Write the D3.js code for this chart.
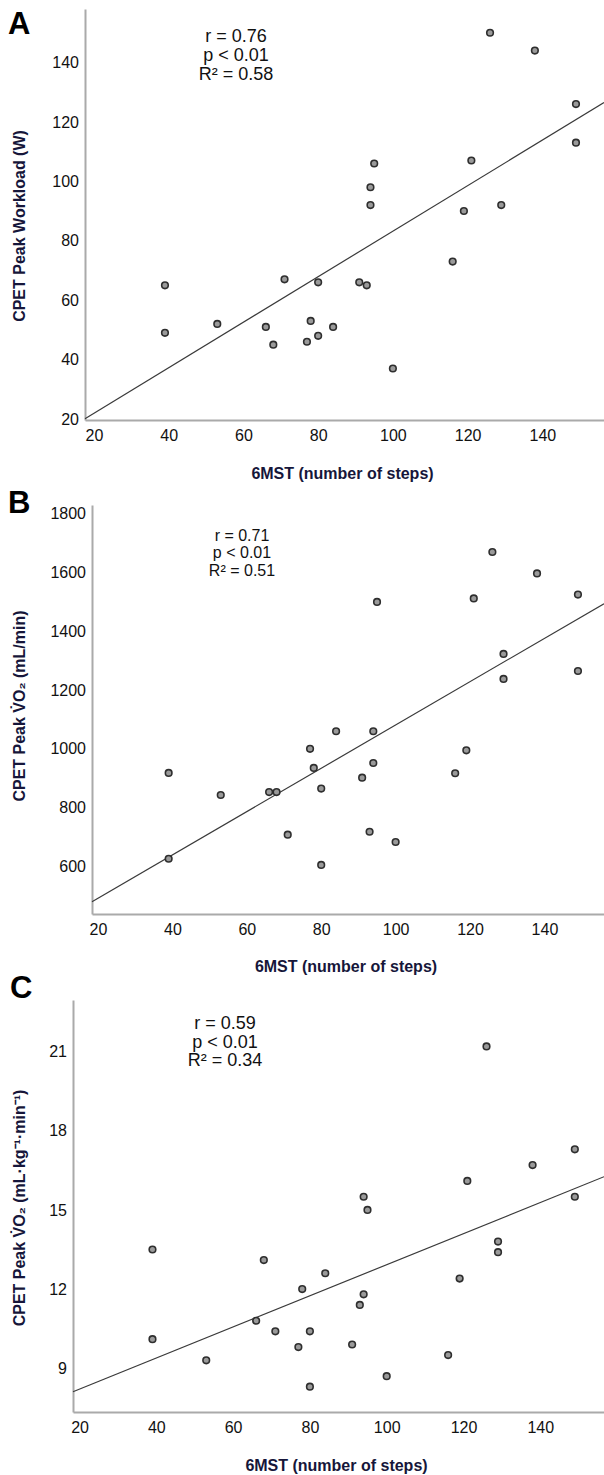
<!DOCTYPE html>
<html><head><meta charset="utf-8">
<script src="https://cdn.jsdelivr.net/npm/d3@7"></script>
<style>
body{margin:0;background:#fff;}
svg{display:block;font-family:"Liberation Sans",Arial,sans-serif;}
</style></head><body>
<svg id="c" width="604" height="1475"></svg>
<script>
// ---- data ----
const stepsA = [39,39,53,66,68,71,77,78,80,80,84,91,93,94,94,95,100,116,119,121,126,129,138,149,149];
const workloadA = [65,49,52,51,45,67,46,53,66,48,51,66,65,98,92,106,37,73,90,107,150,92,144,126,113];

const stepsBC = [39,39,53,66,68,71,77,78,80,80,84,91,93,94,94,95,100,116,119,121,126,129,129,138,149,149];
const vo2B = [918,626,843,853,853,708,1000,935,865,605,1060,902,718,1060,952,1500,683,917,995,1512,1670,1323,1238,1597,1525,1265];
const vo2kgC = [13.5,10.1,9.3,10.8,13.1,10.4,9.8,12.0,10.4,8.3,12.6,9.9,11.4,15.5,11.8,15.0,8.7,9.5,12.4,16.1,21.2,13.8,13.4,16.7,17.3,15.5];

const fitA = {x:[17.6,156.5], y:[20.1,126.5]};
const fitB = {x:[18.4,156.0], y:[480,1494]};
const fitC = {x:[18.3,156.6], y:[8.11,16.26]};

const xTicks = [20,40,60,80,100,120,140];
const yTicksA = [20,40,60,80,100,120,140];
const yTicksB = [600,800,1000,1200,1400,1600,1800];
const yTicksC = [9,12,15,18,21];

const statsA = ["r = 0.76","p < 0.01","R\u00b2 = 0.58"];
const statsB = ["r = 0.71","p < 0.01","R\u00b2 = 0.51"];
const statsC = ["r = 0.59","p < 0.01","R\u00b2 = 0.34"];

const xLabel = "6MST (number of steps)";

// ---- layout ----
const panels = [
  {letter:"A", lx:8, ly:34, xs:stepsA, ys:workloadA, fit:fitA, yTicks:yTicksA, stats:statsA,
   sx:85, ex:604, top:9, bot:420, xd:[17.6,156.5], yd:[19.66,158.0],
   statX:236, statY:[42,61,80], statSize:18,
   yLabel:"CPET Peak Workload (W)", yLabelY:226, xLabelY:479},
  {letter:"B", lx:8, ly:513, xs:stepsBC, ys:vo2B, fit:fitB, yTicks:yTicksB, stats:statsB,
   sx:92, ex:604, top:505, bot:914, xd:[18.4,156.0], yd:[438,1830],
   statX:242, statY:[541,558,576], statSize:16,
   yLabel:"CPET Peak V\u0307O\u2082 (mL/min)", yLabelY:706, xLabelY:972},
  {letter:"C", lx:10, ly:998, xs:stepsBC, ys:vo2kgC, fit:fitC, yTicks:yTicksC, stats:statsC,
   sx:73, ex:604, top:1000, bot:1412, xd:[18.3,156.6], yd:[7.34,22.96],
   statX:225, statY:[1029,1048,1066], statSize:18,
   yLabel:"CPET Peak V\u0307O\u2082 (mL\u00b7kg\u207b\u00b9\u00b7min\u207b\u00b9)", yLabelY:1208, xLabelY:1471}
];

const svg = d3.select("#c");
const labelColor = "#16163a";

panels.forEach(p => {
  const g = svg.append("g");
  const x = d3.scaleLinear().domain(p.xd).range([p.sx, p.ex]);
  const y = d3.scaleLinear().domain(p.yd).range([p.bot, p.top]);

  // panel letter
  g.append("text").attr("x", p.lx).attr("y", p.ly)
    .attr("font-size", 31).attr("font-weight", "bold").attr("fill", "#000").text(p.letter);

  // axes
  const ax = g.append("g").attr("transform", `translate(0,${p.bot})`)
    .call(d3.axisBottom(x).tickValues(xTicks).tickSize(0).tickPadding(10).tickFormat(d3.format("d")));
  const ay = g.append("g").attr("transform", `translate(${p.sx},0)`)
    .call(d3.axisLeft(y).tickValues(p.yTicks).tickSize(0).tickPadding(6).tickFormat(d3.format("d")));
  [ax, ay].forEach(a => {
    a.select(".domain").attr("stroke", "#aaaaaa").attr("stroke-width", 2);
    a.selectAll(".tick text").attr("font-size", 16).attr("fill", "#111")
      .attr("font-family", '"Liberation Sans",Arial,sans-serif');
  });

  // fit line
  g.append("line")
    .attr("x1", x(p.fit.x[0])).attr("y1", y(p.fit.y[0]))
    .attr("x2", x(p.fit.x[1])).attr("y2", y(p.fit.y[1]))
    .attr("stroke", "#3a3a3a").attr("stroke-width", 1.2);

  // points
  g.append("g").selectAll("circle").data(p.xs.map((v,i)=>[v,p.ys[i]])).join("circle")
    .attr("cx", d => x(d[0])).attr("cy", d => y(d[1])).attr("r", 3.3)
    .attr("fill", "#9a9a9a").attr("stroke", "#2e2e2e").attr("stroke-width", 1.6);

  // stats
  g.append("g").selectAll("text").data(p.stats).join("text")
    .attr("x", p.statX).attr("y", (d,i) => p.statY[i])
    .attr("text-anchor", "middle").attr("font-size", p.statSize).attr("fill", "#111")
    .text(d => d);

  // axis titles
  g.append("text").attr("x", (p.sx + p.ex)/2 - 2).attr("y", p.xLabelY)
    .attr("text-anchor", "middle").attr("font-size", 16).attr("font-weight", "bold")
    .attr("fill", labelColor).text(xLabel);
  g.append("text").attr("transform", `translate(19,${p.yLabelY}) rotate(-90)`)
    .attr("text-anchor", "middle").attr("dominant-baseline", "central")
    .attr("font-size", 16).attr("font-weight", "bold").attr("fill", labelColor).text(p.yLabel);
});
</script>
</body></html>
